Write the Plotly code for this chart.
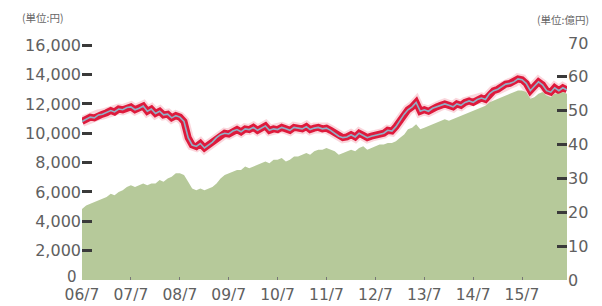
import plotly.graph_objects as go
import pandas as pd

months = pd.date_range("2006-07-01", "2016-06-01", freq="MS")

price_yen = [
    10800, 10950, 11100, 11050, 11250, 11300,
    11400, 11550, 11450, 11650, 11600, 11750, 11800, 11600, 11700, 11850, 11500, 11650,
    11350, 11500, 11250, 11300, 11050, 11200, 11100, 10800, 9700, 9200, 9100, 9300,
    9000, 9200, 9400, 9700, 9900, 10000, 9950, 10150, 10250, 10100, 10300, 10250,
    10400, 10200, 10350, 10500, 10200, 10300, 10250, 10400, 10300, 10200, 10400, 10350,
    10300, 10450, 10250, 10350, 10400, 10300, 10350, 10200, 10000, 9800, 9700, 9750,
    9900, 9750, 10000, 9850, 9700, 9800, 9850, 9950, 10000, 10200, 10150, 10450,
    10900, 11300, 11600, 11800, 12100, 11500, 11600, 11500, 11700, 11800, 11900, 12000,
    11900, 11800, 12000, 11900, 12100, 12200, 12100, 12300, 12400, 12300, 12700, 12900,
    13000, 13200, 13350, 13400, 13500, 13700, 13650, 13400, 12900, 13200, 13500, 13300,
    12900, 12800, 13100, 12900, 13100, 12950,
]

assets_oku = [
    21.0, 22.0, 22.5, 23.0, 23.5, 24.0,
    24.5, 25.5, 25.0, 26.0, 26.5, 27.5, 28.0, 27.5, 28.0, 28.5, 28.0, 28.5,
    28.5, 29.5, 29.0, 30.0, 30.5, 31.5, 31.5, 31.0, 29.0, 27.0, 26.5, 27.0,
    26.5, 27.0, 27.5, 28.5, 30.0, 31.0, 31.5, 32.0, 32.5, 32.5, 33.5, 33.0,
    33.5, 34.0, 34.5, 35.0, 34.5, 35.5, 35.5, 36.0, 35.0, 35.5, 36.5, 36.5,
    37.0, 37.5, 37.0, 38.0, 38.5, 38.5, 39.0, 38.5, 38.0, 37.0, 37.5, 38.0,
    38.5, 38.0, 39.0, 39.5, 38.5, 39.0, 39.5, 40.0, 40.0, 40.5, 40.5, 41.0,
    42.0, 43.0, 44.5, 45.0, 46.0, 44.5, 45.0, 45.5, 46.0, 46.5, 47.0, 47.5,
    47.0, 47.5, 48.0, 48.5, 49.0, 49.5, 50.0, 50.5, 51.0, 51.5, 52.5, 53.0,
    53.5, 54.0, 54.5, 55.0, 55.5, 56.0, 56.0, 55.5, 53.5, 54.0, 55.0, 55.5,
    54.5, 54.0, 55.0, 55.0, 55.5, 55.0,
]

x_tick_dates = [f"{y}-07-01" for y in range(2006, 2016)]
x_tick_labels = ["06/7", "07/7", "08/7", "09/7", "10/7", "11/7", "12/7", "13/7", "14/7", "15/7"]
left_ticks = [0, 2000, 4000, 6000, 8000, 10000, 12000, 14000, 16000]
left_labels = ["", "2,000", "4,000", "6,000", "8,000", "10,000", "12,000", "14,000", "16,000"]
left_zero_label = "0"
right_ticks = [0, 10, 20, 30, 40, 50, 60, 70]

FONT = "DejaVu Sans"
GRAY = "#606060"
FS_Y = 16
FS_X = 15.5

fig = go.Figure()
fig.add_trace(go.Scatter(
    x=months, y=assets_oku, yaxis="y2", mode="lines",
    line=dict(width=0, color="#b6c99a"), fill="tozeroy", fillcolor="#b6c99a",
    hoverinfo="skip", showlegend=False))
fig.add_trace(go.Scatter(
    x=months, y=price_yen, mode="lines",
    line=dict(width=11, color="rgba(240,120,140,0.30)"), showlegend=False))
fig.add_trace(go.Scatter(
    x=months, y=price_yen, mode="lines",
    line=dict(width=7, color="#de1a3c"), showlegend=False))
fig.add_trace(go.Scatter(
    x=months, y=price_yen, mode="lines",
    line=dict(width=1.6, color="#8fb0c6"), showlegend=False))

# page body has an 8px default margin, so the figure is sized 8px smaller
fig.update_layout(
    template="none",
    width=594, height=298,
    margin=dict(l=74, r=35, t=35, b=26, autoexpand=False),
    paper_bgcolor="white", plot_bgcolor="white",
    font=dict(family=FONT, color=GRAY, size=FS_Y),
    showlegend=False,
    xaxis=dict(
        range=["2006-07-01", "2016-06-01"], automargin=False,
        tickmode="array", tickvals=x_tick_dates, ticktext=x_tick_labels,
        ticks="inside", ticklen=3, tickcolor="#777", tickwidth=1,
        ticklabelstandoff=3,
        showgrid=False, zeroline=False, showline=False,
        tickfont=dict(size=FS_X, color=GRAY, family=FONT),
    ),
    yaxis=dict(
        range=[0, 16150], automargin=False,
        tickmode="array", tickvals=left_ticks, ticktext=left_labels,
        ticks="inside", ticklen=10, tickwidth=2.5, tickcolor="#3a3a3a",
        showgrid=False, zeroline=False, showline=False,
        tickfont=dict(size=FS_Y, color=GRAY, family=FONT),
    ),
    yaxis2=dict(
        range=[0, 70], overlaying="y", side="right", automargin=False,
        tickmode="array", tickvals=right_ticks,
        ticks="inside", ticklen=10, tickwidth=2.5, tickcolor="#3a3a3a",
        showgrid=False, zeroline=False, showline=False,
        tickfont=dict(size=FS_Y, color=GRAY, family=FONT),
    ),
    annotations=[
        dict(text=left_zero_label, xref="paper", yref="y", x=0, y=0,
             xanchor="right", yanchor="middle", xshift=-4, yshift=3,
             borderpad=0, showarrow=False,
             font=dict(size=15, color=GRAY, family=FONT)),
        dict(text="(単位:円)", xref="paper", yref="paper", x=-0.128, y=1.0,
             yshift=26, xanchor="left", yanchor="middle", showarrow=False,
             font=dict(size=10.5, color="#666", family="Noto Sans CJK JP")),
        dict(text="(単位:億円)", xref="paper", yref="paper", x=1.05, y=1.0,
             yshift=24, xanchor="right", yanchor="middle", showarrow=False,
             font=dict(size=10.5, color="#666", family="Noto Sans CJK JP")),
    ],
)

fig.write_html("out.html")
